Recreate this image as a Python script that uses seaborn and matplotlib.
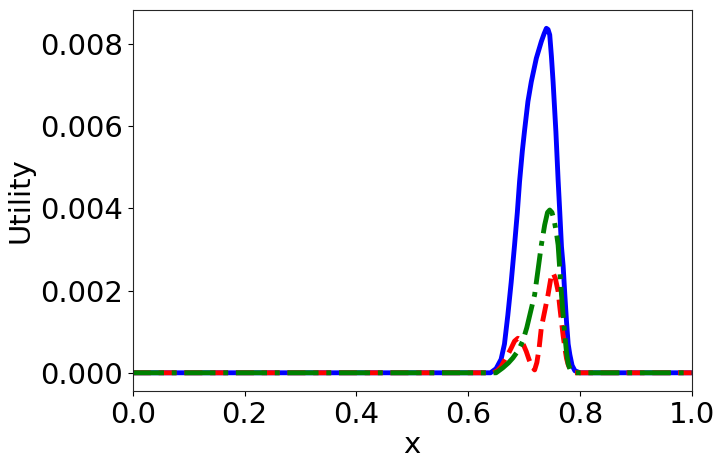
import seaborn as sns
import matplotlib.pyplot as plt
import pandas as pd
import numpy as np

# --- data ---
x_solid = [0.0, 0.64, 0.650, 0.659, 0.665, 0.671, 0.677, 0.683, 0.688, 0.692,
           0.697, 0.701, 0.707, 0.713, 0.722, 0.731, 0.736, 0.740, 0.743,
           0.746, 0.749, 0.752, 0.757, 0.761, 0.764, 0.767, 0.770, 0.773,
           0.776, 0.779, 0.782, 0.786, 0.791, 0.80, 1.0]
u_solid = [0.0, 0.0, 0.0001, 0.00033, 0.0007, 0.0014, 0.0022, 0.0031, 0.0039, 0.00465,
           0.0054, 0.0059, 0.0066, 0.00708, 0.00765, 0.00806, 0.00825, 0.00838, 0.00835,
           0.00822, 0.0077, 0.00708, 0.00587, 0.00469, 0.0039, 0.00307, 0.0026, 0.0019,
           0.00125, 0.0007, 0.00044, 0.00018, 0.00005, 0.0, 0.0]

x_dash = [0.0, 0.645, 0.652, 0.659, 0.665, 0.671, 0.677, 0.683, 0.689, 0.694,
          0.699, 0.704, 0.709, 0.714, 0.719, 0.723, 0.727, 0.731, 0.737, 0.743,
          0.748, 0.752, 0.756, 0.761, 0.764, 0.767, 0.770, 0.773, 0.776, 0.779,
          0.783, 0.788, 1.0]
u_dash = [0.0, 0.0, 0.00005, 0.00015, 0.0003, 0.00044, 0.0006, 0.00077, 0.00084, 0.0008,
          0.00068, 0.00052, 0.00032, 0.00015, 0.00007, 0.00025, 0.0006, 0.0011, 0.0015, 0.0019,
          0.0023, 0.00243, 0.0023, 0.00198, 0.0016, 0.00125, 0.0009, 0.00061, 0.00035, 0.0002,
          0.00007, 0.0, 0.0]

x_dashdot = [0.0, 0.65, 0.662, 0.672, 0.680, 0.690, 0.698, 0.705, 0.712, 0.719,
             0.725, 0.731, 0.737, 0.742, 0.746, 0.750, 0.754, 0.758, 0.761, 0.764,
             0.767, 0.770, 0.773, 0.776, 0.779, 0.783, 0.788, 1.0]
u_dashdot = [0.0, 0.0, 0.00012, 0.00024, 0.00036, 0.00055, 0.00078, 0.0011, 0.0015, 0.0019,
             0.0025, 0.00311, 0.0036, 0.0039, 0.00396, 0.0039, 0.0037, 0.0034, 0.00311, 0.0025,
             0.0019, 0.0014, 0.00092, 0.0005, 0.00022, 0.00006, 0.0, 0.0]

series = [
    ("solid", x_solid, u_solid, "blue", "-"),
    ("dash", x_dash, u_dash, "red", "--"),
    ("dashdot", x_dashdot, u_dashdot, "green", "-."),
]

sns.set_style("ticks")
plt.rcParams["font.family"] = ["DejaVu Sans"]
plt.rcParams["text.color"] = "black"
plt.rcParams["axes.labelcolor"] = "black"
plt.rcParams["xtick.color"] = "black"
plt.rcParams["ytick.color"] = "black"

fig, ax = plt.subplots(figsize=(7.22, 4.67), dpi=100)
fig.subplots_adjust(left=0.184, right=0.958, bottom=0.163, top=0.979)

for name, xs, us, col, ls in series:
    df = pd.DataFrame({"x": xs, "Utility": us})
    sns.lineplot(data=df, x="x", y="Utility", ax=ax, color=col,
                 linestyle=ls, linewidth=3.5, estimator=None)

ax.set_xlim(0, 1)
ax.set_ylim(-0.00044, 0.00883)
ax.set_yticks([0.0, 0.002, 0.004, 0.006, 0.008])
ax.set_yticklabels(["0.000", "0.002", "0.004", "0.006", "0.008"])
ax.set_xticks([0.0, 0.2, 0.4, 0.6, 0.8, 1.0])
ax.tick_params(labelsize=21)
ax.set_xlabel("x", fontsize=21, labelpad=2)
ax.set_ylabel("Utility", fontsize=21, labelpad=4)

plt.savefig("out.png", dpi=100)
